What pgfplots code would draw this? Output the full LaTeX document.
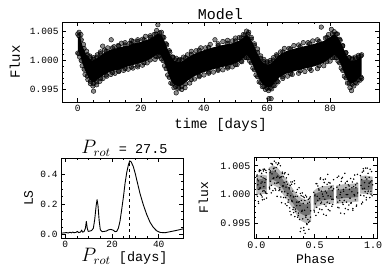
\documentclass[border=0pt]{standalone}
\usepackage{pgfplots}
\pgfplotsset{compat=1.18}
\usepackage{fontspec}
\setmainfont{Liberation Mono}
\setmonofont{Liberation Mono}
\usepackage{graphicx}
\pgfplotsset{
  myax/.style={
    scale only axis,
    clip mode=individual,
    axis line style={line width=0.8pt},
    tick align=inside,
    xtick pos=both, ytick pos=both,
    xticklabel pos=lower, yticklabel pos=left,
    major tick length=4pt, minor tick length=2pt,
    every tick/.style={line width=0.6pt, black},
    /pgf/number format/assume math mode=true,
    tick label style={font=\fontsize{9.5}{10}\selectfont},
  }
}
\newcommand{\prot}{\scalebox{1.35}{$P_{rot}$}}
\begin{document}
\begin{tikzpicture}
\path[use as bounding box] (0,0) rectangle (390pt,279pt);
% ---------------- top: light curve ----------------
\begin{axis}[myax,
  at={(62pt,177pt)}, anchor=south west,
  width=317pt, height=80pt,
  xmin=-5, xmax=95.5, ymin=0.99282, ymax=1.00668,
  xtick={0,20,40,60,80}, minor x tick num=3,
  ytick={0.995,1.000,1.005}, minor y tick num=4,
  yticklabel style={/pgf/number format/.cd,fixed,fixed zerofill,precision=3},
  xlabel={time [days]}, ylabel={Flux},
  xlabel style={font=\fontsize{14}{15}\selectfont, at={(axis description cs:0.5,-0.33)}, anchor=base},
  ylabel style={font=\fontsize{14}{15}\selectfont, at={(axis description cs:-0.133,0.5)}, anchor=base},
]
\addplot[fill=black, draw=none] coordinates {
(0.0,1.0040) (0.7,1.0042) (1.5,1.0025) (2.5,1.0012) (3.5,1.0005) (4.5,1.0000) (5.5,1.0002) (6.5,1.0006) (8,1.0012) (10,1.0018) (12,1.0021) (14,1.0024) (16,1.0026) (18,1.0030) (20,1.0032) (22,1.0036) (24,1.0041) (25.5,1.0047) (26.5,1.0044) (27.5,1.0034) (28.5,1.0020) (29.5,1.0008) (30.5,1.0000) (31.5,0.9998) (32.5,0.9997) (33.5,1.0000) (35,1.0006) (37,1.0012) (40,1.0018) (43,1.0023) (46,1.0027) (49,1.0030) (51,1.0034) (52.5,1.0040) (53.5,1.0045) (54.5,1.0040) (55.5,1.0030) (56.5,1.0018) (57.5,1.0006) (58.5,0.9998) (59.5,0.9994) (60.5,0.9993) (61.5,0.9996) (62.5,1.0002) (64,1.0010) (66,1.0016) (69,1.0021) (72,1.0025) (75,1.0029) (78,1.0034) (80,1.0041) (81.3,1.0046) (82.5,1.0040) (83.5,1.0030) (84.5,1.0018) (85.5,1.0006) (86.5,1.0000) (87.5,1.0000) (88.5,1.0002) (89.5,1.0006) (90,1.0006)
(90,0.9975) (89.5,0.9972) (88.5,0.9966) (87.5,0.9962) (86.5,0.9960) (85.5,0.9966) (84.5,0.9978) (83.5,0.9992) (82.5,1.0004) (81.3,1.0010) (80,1.0004) (78,0.9996) (75,0.9990) (72,0.9986) (69,0.9982) (66,0.9977) (64,0.9971) (62.5,0.9962) (61.5,0.9956) (60.5,0.9953) (59.5,0.9955) (58.5,0.9960) (57.5,0.9968) (56.5,0.9980) (55.5,0.9992) (54.5,1.0004) (53.5,1.0010) (52.5,1.0004) (51,0.9998) (49,0.9993) (46,0.9989) (43,0.9985) (40,0.9980) (37,0.9973) (35,0.9966) (33.5,0.9959) (32.5,0.9956) (31.5,0.9956) (30.5,0.9958) (29.5,0.9966) (28.5,0.9980) (27.5,0.9996) (26.5,1.0008) (25.5,1.0012) (24,1.0006) (22,1.0000) (20,0.9996) (18,0.9993) (16,0.9990) (14,0.9986) (12,0.9983) (10,0.9980) (8,0.9974) (6.5,0.9968) (5.5,0.9963) (4.5,0.9962) (3.5,0.9970) (2.5,0.9980) (1.5,0.9995) (0.7,1.0010) (0.0,1.0018)
} --cycle;
% inner row of points along the band edges
\addplot[only marks, mark=*, mark size=2.3pt, mark options={draw=none, fill=black, fill opacity=0.6}] coordinates {
(0.35,1.0043) (1.1,1.0036) (2.0,1.0021) (3.0,1.0010) (4.0,1.0005) (5.0,1.0002) (6.0,1.0006) (7.2,1.0012) (9.0,1.0016) (11.0,1.0022) (13.0,1.0025) (15.0,1.0027) (17.0,1.0029) (19.0,1.0033) (21.0,1.0036) (23.0,1.0040) (24.8,1.0046) (26.0,1.0048) (27.0,1.0041) (28.0,1.0029) (29.0,1.0017) (30.0,1.0006) (31.0,1.0001) (32.0,1.0000) (33.0,1.0001) (34.2,1.0005) (36.0,1.0011) (38.5,1.0018) (41.5,1.0023) (44.5,1.0026) (47.5,1.0030) (50.0,1.0034) (51.8,1.0039) (53.0,1.0044) (54.0,1.0046) (55.0,1.0037) (56.0,1.0026) (57.0,1.0014) (58.0,1.0004) (59.0,0.9998) (60.0,0.9996) (61.0,0.9997) (62.0,1.0001) (63.2,1.0008) (65.0,1.0015) (67.5,1.0020) (70.5,1.0024) (73.5,1.0029) (76.5,1.0033) (79.0,1.0040) (80.7,1.0046) (81.9,1.0046) (83.0,1.0037) (84.0,1.0026) (85.0,1.0014) (86.0,1.0005) (87.0,1.0002) (88.0,1.0003) (89.0,1.0006) (89.8,1.0008)
(0.35,1.0012) (1.1,1.0000) (2.0,0.9985) (3.0,0.9973) (4.0,0.9964) (5.0,0.9960) (6.0,0.9963) (7.2,0.9969) (9.0,0.9975) (11.0,0.9979) (13.0,0.9982) (15.0,0.9986) (17.0,0.9989) (19.0,0.9992) (21.0,0.9996) (23.0,1.0001) (24.8,1.0007) (26.0,1.0008) (27.0,1.0000) (28.0,0.9986) (29.0,0.9971) (30.0,0.9960) (31.0,0.9955) (32.0,0.9954) (33.0,0.9955) (34.2,0.9960) (36.0,0.9967) (38.5,0.9974) (41.5,0.9980) (44.5,0.9985) (47.5,0.9989) (50.0,0.9993) (51.8,0.9999) (53.0,1.0005) (54.0,1.0005) (55.0,0.9996) (56.0,0.9984) (57.0,0.9972) (58.0,0.9962) (59.0,0.9955) (60.0,0.9952) (61.0,0.9952) (62.0,0.9957) (63.2,0.9964) (65.0,0.9972) (67.5,0.9977) (70.5,0.9982) (73.5,0.9986) (76.5,0.9991) (79.0,0.9998) (80.7,1.0005) (81.9,1.0005) (83.0,0.9996) (84.0,0.9983) (85.0,0.9970) (86.0,0.9961) (87.0,0.9959) (88.0,0.9962) (89.0,0.9967) (89.8,0.9971)
};
% outer row of points and outliers
\addplot[only marks, mark=*, mark size=2.3pt, mark options={draw=none, fill=black, fill opacity=0.45}] coordinates {
(0.0,1.0046) (0.4,1.0049) (1.0,1.0045) (1.8,1.0028) (2.8,1.0016) (3.8,1.0008) (5.0,1.0005) (6.2,1.0010) (7.2,1.0015) (7.9,1.0025) (8.5,1.0018) (9.5,1.0022) (10.6,1.0036) (11.5,1.0024) (12.8,1.0026) (13.8,1.0030) (15.0,1.0031) (16.5,1.0030) (17.0,1.0035) (17.5,1.0033) (19.0,1.0036) (20.5,1.0037) (21.5,1.0042) (23.0,1.0043) (24.2,1.0045) (25.0,1.0052) (25.4,1.0062) (26.5,1.0049) (27.3,1.0040) (28.2,1.0027) (29.2,1.0014) (30.2,1.0006) (31.2,1.0004) (32.3,1.0002) (33.5,1.0006) (34.8,1.0010) (36.0,1.0016) (37.5,1.0017) (39.0,1.0022) (40.5,1.0022) (42.0,1.0028) (43.5,1.0036) (44.5,1.0029) (46.0,1.0033) (47.5,1.0035) (49.0,1.0034) (50.0,1.0039) (51.2,1.0040) (52.5,1.0045) (53.5,1.0051) (54.2,1.0049) (55.0,1.0040) (56.0,1.0029) (57.0,1.0020) (58.0,1.0008) (59.0,1.0002) (60.0,0.9998) (61.0,1.0000) (62.0,1.0005) (63.0,1.0010) (64.3,1.0015) (65.5,1.0021) (67.0,1.0021) (68.5,1.0026) (70.0,1.0027) (71.5,1.0031) (73.0,1.0031) (74.5,1.0034) (76.0,1.0036) (77.2,1.0058) (78.5,1.0039) (79.5,1.0045) (80.4,1.0054) (81.3,1.0050) (82.3,1.0046) (83.2,1.0035) (84.0,1.0025) (85.0,1.0013) (86.0,1.0005) (87.0,1.0004) (88.0,1.0006) (89.0,1.0009) (90.0,1.0010)
(0.0,1.0013) (0.6,1.0006) (1.4,0.9991) (2.3,0.9976) (3.2,0.9967) (4.0,0.9960) (4.8,0.9956) (5.0,0.9947) (6.0,0.9958) (7.0,0.9964) (8.0,0.9969) (9.2,0.9973) (10.5,0.9976) (11.8,0.9978) (13.0,0.9981) (14.5,0.9983) (16.0,0.9985) (17.5,0.9987) (19.0,0.9989) (20.5,0.9992) (22.0,0.9996) (24.5,1.0002) (25.5,1.0007) (26.5,1.0003) (27.5,0.9991) (28.5,0.9975) (29.5,0.9961) (30.5,0.9953) (31.2,0.9944) (32.0,0.9951) (33.0,0.9950) (34.0,0.9953) (35.5,0.9961) (37.0,0.9968) (38.5,0.9972) (40.0,0.9975) (41.5,0.9978) (43.0,0.9980) (44.5,0.9983) (46.0,0.9984) (47.5,0.9987) (49.0,0.9989) (50.5,0.9993) (52.0,0.9998) (53.5,1.0005) (54.5,0.9999) (55.5,0.9987) (56.5,0.9975) (57.5,0.9963) (58.5,0.9955) (59.5,0.9950) (60.5,0.9948) (61.5,0.9951) (60.6,0.9934) (61.3,0.9934) (62.5,0.9957) (63.5,0.9963) (65.0,0.9969) (66.5,0.9973) (68.0,0.9976) (70.0,0.9978) (72.0,0.9981) (74.0,0.9983) (76.0,0.9986) (78.0,0.9991) (80.0,0.9999) (81.3,1.0005) (82.5,0.9999) (83.5,0.9987) (84.5,0.9973) (85.5,0.9961) (86.3,0.9953) (86.8,0.9948) (87.5,0.9956) (88.5,0.9961) (89.5,0.9966) (90.0,0.9969)
};
\node[anchor=base, font=\fontsize{15}{16}\selectfont, inner sep=0pt] at (rel axis cs:0.5,1.034) {Model};
\end{axis}
% ---------------- bottom left: periodogram ----------------
\begin{axis}[myax,
  at={(61pt,41pt)}, anchor=south west,
  width=122pt, height=80pt,
  xmin=-1.85, xmax=50.4, ymin=-0.024, ymax=0.506,
  xtick={0,20,40}, minor x tick num=3,
  ytick={0,0.2,0.4}, minor y tick num=3,
  tick label style={font=\fontsize{9.5}{10}\selectfont},
  yticklabel style={/pgf/number format/.cd,fixed,fixed zerofill,precision=1},
  xlabel={\prot{} [days]}, ylabel={LS},
  xlabel style={font=\fontsize{13.5}{14}\selectfont, at={(axis description cs:0.52,-0.29)}, anchor=base},
  ylabel style={font=\fontsize{13}{14}\selectfont, at={(axis description cs:-0.23,0.5)}, anchor=base},
]
\addplot[black, line width=0.9pt, line join=round] coordinates {
(-1.8,0.008) (-0.5,0.010) (0.5,0.012) (1.2,0.009) (2.0,0.014) (2.6,0.010) (3.2,0.016) (3.6,0.011) (4.5,0.013) (5.2,0.020) (5.6,0.012) (6.5,0.015) (7.0,0.028) (7.4,0.015) (8.0,0.018) (8.6,0.040) (9.0,0.086) (9.4,0.040) (9.8,0.020) (10.5,0.022) (11.2,0.025) (12.0,0.040) (12.6,0.100) (13.2,0.190) (13.6,0.230) (14.0,0.190) (14.5,0.090) (15.0,0.030) (15.8,0.018) (16.8,0.020) (17.5,0.022) (18.5,0.030) (19.5,0.033) (20.5,0.028) (21.3,0.018) (22.0,0.020) (22.7,0.040) (23.4,0.086) (24.1,0.160) (24.9,0.250) (25.6,0.340) (26.3,0.410) (27.0,0.460) (27.6,0.487) (28.2,0.480) (29.1,0.450) (30.0,0.400) (30.6,0.360) (32.0,0.270) (33.4,0.196) (34.9,0.130) (36.3,0.080) (37.7,0.046) (39.1,0.024) (40.6,0.013) (42.7,0.011) (45.6,0.020) (48.4,0.029) (50.5,0.037)
};
\addplot[black, dashed, line width=0.8pt] coordinates {(27.5,-0.024) (27.5,0.488)};
\node[anchor=base, font=\fontsize{13.5}{14}\selectfont, inner sep=0pt] at (rel axis cs:0.52,1.054) {\prot{} = 27.5};
\end{axis}
% ---------------- bottom right: phase ----------------
\begin{axis}[myax,
  at={(254pt,41pt)}, anchor=south west,
  width=123pt, height=81pt,
  xmin=-0.02, xmax=1.034, ymin=0.99249, ymax=1.00652,
  xtick={0,0.5,1}, minor x tick num=4,
  ytick={0.995,1.000,1.005}, minor y tick num=4,
  tick label style={font=\fontsize{10}{11}\selectfont},
  xticklabel style={/pgf/number format/.cd,fixed,fixed zerofill,precision=1},
  yticklabel style={/pgf/number format/.cd,fixed,fixed zerofill,precision=3},
  xlabel={Phase}, ylabel={Flux},
  xlabel style={font=\fontsize{13}{14}\selectfont, at={(axis description cs:0.5,-0.316)}, anchor=base},
  ylabel style={font=\fontsize{13}{14}\selectfont, at={(axis description cs:-0.372,0.5)}, anchor=base},
]
% outer density bands
\addplot[fill=black!28, draw=none] coordinates {(0.000,1.0033) (0.045,1.0035) (0.090,1.0033) (0.090,1.0002) (0.045,1.0001) (0.000,1.0000)} --cycle;
\addplot[fill=black!28, draw=none] coordinates {(0.108,1.0047) (0.14,1.0051) (0.18,1.0047) (0.22,1.0037) (0.26,1.0026) (0.30,1.0014) (0.34,1.0002) (0.38,0.9995) (0.42,0.9991) (0.47,0.9994) (0.47,0.9954) (0.42,0.9951) (0.38,0.9955) (0.34,0.9967) (0.30,0.9980) (0.26,0.9992) (0.22,1.0003) (0.18,1.0013) (0.14,1.0017) (0.108,1.0013)} --cycle;
\addplot[fill=black!28, draw=none] coordinates {(0.49,1.0006) (0.52,1.0011) (0.56,1.0014) (0.60,1.0015) (0.665,1.0017) (0.665,0.9985) (0.60,0.9983) (0.56,0.9982) (0.52,0.9979) (0.49,0.9974)} --cycle;
\addplot[fill=black!28, draw=none] coordinates {(0.685,1.0016) (0.75,1.0018) (0.82,1.0019) (0.875,1.0020) (0.875,0.9988) (0.82,0.9987) (0.75,0.9986) (0.685,0.9984)} --cycle;
\addplot[fill=black!28, draw=none] coordinates {(0.89,1.0032) (0.94,1.0033) (0.997,1.0031) (0.997,1.0000) (0.94,1.0001) (0.89,1.0002)} --cycle;
% inner cores
\addplot[fill=black!55, draw=none] coordinates {(0.003,1.0026) (0.045,1.0027) (0.087,1.0026) (0.087,1.0009) (0.045,1.0009) (0.003,1.0008)} --cycle;
\addplot[fill=black!55, draw=none] coordinates {(0.11,1.0038) (0.14,1.0042) (0.18,1.0038) (0.22,1.0028) (0.26,1.0017) (0.30,1.0005) (0.34,0.9993) (0.38,0.9986) (0.42,0.9983) (0.465,0.9985) (0.465,0.9966) (0.42,0.9963) (0.38,0.9967) (0.34,0.9977) (0.30,0.9989) (0.26,1.0001) (0.22,1.0012) (0.18,1.0022) (0.14,1.0026) (0.11,1.0022)} --cycle;
\addplot[fill=black!55, draw=none] coordinates {(0.493,0.9998) (0.52,1.0003) (0.56,1.0006) (0.60,1.0007) (0.662,1.0009) (0.662,0.9993) (0.60,0.9991) (0.56,0.9990) (0.52,0.9987) (0.493,0.9982)} --cycle;
\addplot[fill=black!55, draw=none] coordinates {(0.688,1.0008) (0.75,1.0010) (0.82,1.0011) (0.872,1.0012) (0.872,0.9996) (0.82,0.9995) (0.75,0.9994) (0.688,0.9992)} --cycle;
\addplot[fill=black!55, draw=none] coordinates {(0.893,1.0025) (0.94,1.0026) (0.994,1.0024) (0.994,1.0009) (0.94,1.0008) (0.893,1.0009)} --cycle;
% individual points
\addplot[only marks, mark=*, mark size=0.5pt, mark options={draw=none, fill=black, fill opacity=0.85}] coordinates {
(0.004,1.0032) (0.010,0.9997) (0.016,1.0024) (0.022,1.0009) (0.028,1.0043) (0.034,1.0001) (0.040,1.0020) (0.046,1.0037) (0.052,0.9991) (0.058,1.0029) (0.064,1.0014) (0.070,1.0044) (0.076,1.0005) (0.082,1.0026) (0.088,0.9994)
(0.007,1.0034) (0.013,1.0017) (0.019,0.9985) (0.025,1.0040) (0.031,1.0011) (0.037,1.0042) (0.043,0.9999) (0.049,1.0022) (0.055,1.0006) (0.061,1.0041) (0.067,0.9992) (0.073,1.0028) (0.079,1.0003) (0.085,1.0038)
(0.0015,1.0000) (0.0095,1.0027) (0.0175,0.9988) (0.0255,1.0042) (0.0335,1.0012) (0.0415,1.0031) (0.0495,0.9996) (0.0575,1.0044) (0.0655,1.0007) (0.0735,1.0021) (0.0815,1.0042) (0.0895,1.0002)
(0.110,1.0044) (0.114,1.0010) (0.118,1.0038) (0.122,1.0023) (0.126,1.0054) (0.130,1.0016) (0.134,1.0036) (0.138,1.0053) (0.142,1.0007) (0.146,1.0045) (0.150,1.0029) (0.154,1.0058) (0.158,1.0020) (0.162,1.0041) (0.166,1.0008) (0.170,1.0047) (0.174,1.0030) (0.178,0.9997) (0.182,1.0052) (0.186,1.0021) (0.190,1.0055) (0.194,1.0007) (0.198,1.0029) (0.202,1.0012) (0.206,1.0050) (0.210,0.9996) (0.214,1.0031) (0.218,1.0005) (0.222,1.0039) (0.226,1.0015)
(0.230,1.0031) (0.234,0.9995) (0.238,1.0021) (0.242,1.0005) (0.246,1.0038) (0.250,0.9995) (0.254,1.0013) (0.258,1.0029) (0.262,0.9981) (0.266,1.0018) (0.270,1.0002) (0.274,1.0035) (0.278,0.9991) (0.282,1.0010) (0.286,0.9977) (0.290,1.0016) (0.294,0.9998) (0.298,0.9965) (0.302,1.0018) (0.306,0.9988) (0.310,1.0022) (0.314,0.9974) (0.318,0.9996) (0.322,0.9978) (0.326,1.0024) (0.330,0.9962) (0.334,0.9997) (0.338,0.9971) (0.342,1.0004) (0.346,0.9981)
(0.350,0.9997) (0.354,0.9961) (0.358,0.9987) (0.362,0.9968) (0.366,1.0012) (0.370,0.9957) (0.374,0.9981) (0.378,1.0002) (0.382,0.9942) (0.386,0.9990) (0.390,0.9971) (0.394,1.0003) (0.398,0.9958) (0.402,0.9985) (0.406,0.9943) (0.410,0.9995) (0.414,0.9973) (0.418,0.9933) (0.422,0.9999) (0.426,0.9964) (0.430,0.9996) (0.434,0.9948) (0.438,0.9978) (0.442,0.9957) (0.446,0.9992) (0.450,0.9940) (0.454,0.9987) (0.458,0.9954) (0.462,0.9996) (0.466,0.9972)
(0.112,1.0013) (0.120,1.0041) (0.128,1.0003) (0.136,1.0052) (0.144,1.0028) (0.152,1.0046) (0.160,1.0011) (0.168,1.0055) (0.176,1.0020) (0.184,1.0032) (0.192,1.0054) (0.200,1.0009) (0.208,1.0030) (0.216,0.9986) (0.224,1.0037) (0.232,1.0015) (0.240,1.0036) (0.248,0.9984) (0.256,1.0022) (0.264,0.9999) (0.272,0.9987) (0.280,1.0012) (0.288,0.9971) (0.296,1.0022) (0.304,0.9990) (0.312,1.0006) (0.320,0.9969) (0.328,1.0019) (0.336,0.9975) (0.344,0.9987) (0.352,1.0009) (0.360,0.9964) (0.368,0.9988) (0.376,0.9936) (0.384,0.9998) (0.392,0.9973) (0.400,0.9997) (0.408,0.9938) (0.416,0.9990) (0.424,0.9961) (0.432,0.9950) (0.440,0.9985) (0.448,0.9952) (0.456,0.9994) (0.464,0.9961)
(0.492,1.0004) (0.497,0.9970) (0.502,0.9998) (0.507,0.9984) (0.512,1.0019) (0.517,0.9978) (0.522,0.9997) (0.527,1.0015) (0.532,0.9969) (0.537,1.0008) (0.542,0.9993) (0.547,1.0027) (0.552,0.9985) (0.557,1.0006) (0.562,0.9974) (0.567,1.0014) (0.572,0.9997) (0.577,0.9966) (0.582,1.0021) (0.587,0.9992) (0.592,1.0027) (0.597,0.9980) (0.602,1.0003) (0.607,0.9987) (0.612,1.0035) (0.617,0.9974) (0.622,1.0010) (0.627,0.9985) (0.632,1.0020) (0.637,0.9997) (0.642,1.0014) (0.647,0.9980) (0.652,1.0007) (0.657,0.9992) (0.662,1.0026)
(0.4945,0.9973) (0.5025,1.0001) (0.5105,0.9964) (0.5185,1.0019) (0.5265,0.9990) (0.5345,1.0010) (0.5425,0.9975) (0.5505,1.0029) (0.5585,0.9987) (0.5665,1.0001) (0.5745,1.0026) (0.5825,0.9983) (0.5905,1.0006) (0.5985,0.9964) (0.6065,1.0018) (0.6145,0.9998) (0.6225,1.0021) (0.6305,0.9972) (0.6385,1.0012) (0.6465,0.9992) (0.6545,0.9983) (0.6625,1.0010)
(0.688,0.9996) (0.693,1.0030) (0.698,0.9987) (0.703,1.0009) (0.708,0.9977) (0.713,1.0017) (0.718,1.0000) (0.723,0.9968) (0.728,1.0023) (0.733,0.9995) (0.738,1.0030) (0.743,0.9983) (0.748,1.0006) (0.753,0.9990) (0.758,1.0037) (0.763,0.9976) (0.768,1.0012) (0.773,0.9987) (0.778,1.0023) (0.783,1.0000) (0.788,1.0017) (0.793,0.9982) (0.798,1.0009) (0.803,0.9994) (0.808,1.0028) (0.813,0.9986) (0.818,1.0005) (0.823,1.0022) (0.828,0.9976) (0.833,1.0014) (0.838,1.0000) (0.843,1.0034) (0.848,0.9991) (0.853,1.0012) (0.858,0.9980) (0.863,1.0020) (0.868,1.0003)
(0.6905,1.0013) (0.6985,0.9978) (0.7065,1.0032) (0.7145,0.9990) (0.7225,1.0004) (0.7305,1.0028) (0.7385,0.9986) (0.7465,1.0009) (0.7545,0.9967) (0.7625,1.0020) (0.7705,1.0000) (0.7785,1.0023) (0.7865,0.9974) (0.7945,1.0015) (0.8025,0.9994) (0.8105,0.9985) (0.8185,1.0012) (0.8265,0.9973) (0.8345,1.0027) (0.8425,0.9998) (0.8505,1.0017) (0.8585,0.9982) (0.8665,1.0035)
(0.892,1.0033) (0.897,1.0016) (0.902,0.9984) (0.907,1.0039) (0.912,1.0010) (0.917,1.0045) (0.922,0.9998) (0.927,1.0021) (0.932,1.0005) (0.937,1.0046) (0.942,0.9991) (0.947,1.0027) (0.952,1.0002) (0.957,1.0037) (0.962,1.0014) (0.967,1.0030) (0.972,0.9995) (0.977,1.0022) (0.982,1.0006) (0.987,1.0040) (0.992,0.9998) (0.997,1.0017)
(0.8945,0.9999) (0.9025,1.0026) (0.9105,0.9987) (0.9185,1.0041) (0.9265,1.0011) (0.9345,1.0030) (0.9425,0.9995) (0.9505,1.0046) (0.9585,1.0006) (0.9665,1.0020) (0.9745,1.0044) (0.9825,1.0001) (0.9905,1.0024)
};
\end{axis}
\end{tikzpicture}
\end{document}
